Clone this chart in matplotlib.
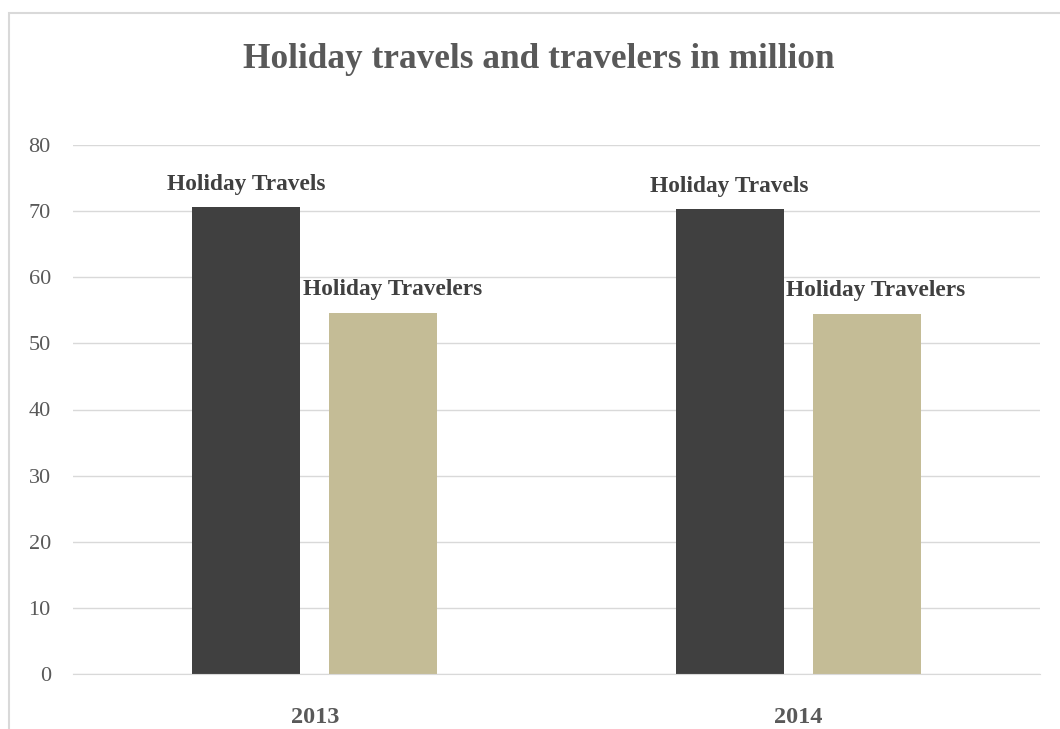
import numpy as np
import matplotlib.pyplot as plt
from matplotlib.patches import Rectangle

# Datos
years = ["2013", "2014"]
series_names = ["Holiday Travels", "Holiday Travelers"]
travels = [70.6, 70.3]
travelers = [54.6, 54.5]
colors = ["#404040", "#c4bc96"]

plt.rcParams['font.family'] = ['Liberation Serif', 'DejaVu Serif']

fig = plt.figure(figsize=(10.6, 7.29), dpi=100)
ax = fig.add_axes([73 / 1060, 55 / 729, 967 / 1060, 529 / 729])

x = np.arange(len(years))
width = 0.223
offset = 0.142

for vals, name, col, off, dx in zip([travels, travelers], series_names, colors,
                                     [-offset, offset], [0, 6.5]):
    bars = ax.bar(x + off, vals, width, color=col, zorder=2)
    for b in bars:
        ax.annotate(name, (b.get_x() + b.get_width() / 2, b.get_height()),
                    xytext=(dx, 9), textcoords="offset points", ha="center", va="bottom",
                    fontsize=16.8, fontweight="bold", color="#404040")

ax.set_xlim(-0.5, 1.5)
ax.set_ylim(0, 80)
ax.set_yticks(range(0, 81, 10))
ax.set_xticks(x)
ax.set_xticklabels(years, fontweight="bold")
ax.tick_params(axis="y", length=0, pad=16, labelsize=16, labelcolor="#595959")
ax.tick_params(axis="x", length=0, pad=24, labelsize=17.5, labelcolor="#595959")
ax.grid(axis="y", color="#d9d9d9", linewidth=1, zorder=0)
for s in ["left", "right", "top"]:
    ax.spines[s].set_visible(False)
ax.spines["bottom"].set_color("#d9d9d9")

fig.text(539 / 1060, 1 - 59 / 729, "Holiday travels and travelers in million", ha="center", va="center",
         fontsize=25.4, fontweight="bold", color="#595959")

# Marco del grafico
fig.patches.append(Rectangle((9 / 1060, -0.05), 1.1, 1 - 13 / 729 + 0.05, transform=fig.transFigure,
                             fill=False, edgecolor="#d9d9d9", linewidth=1.5))

fig.savefig("out.png", dpi=100)
